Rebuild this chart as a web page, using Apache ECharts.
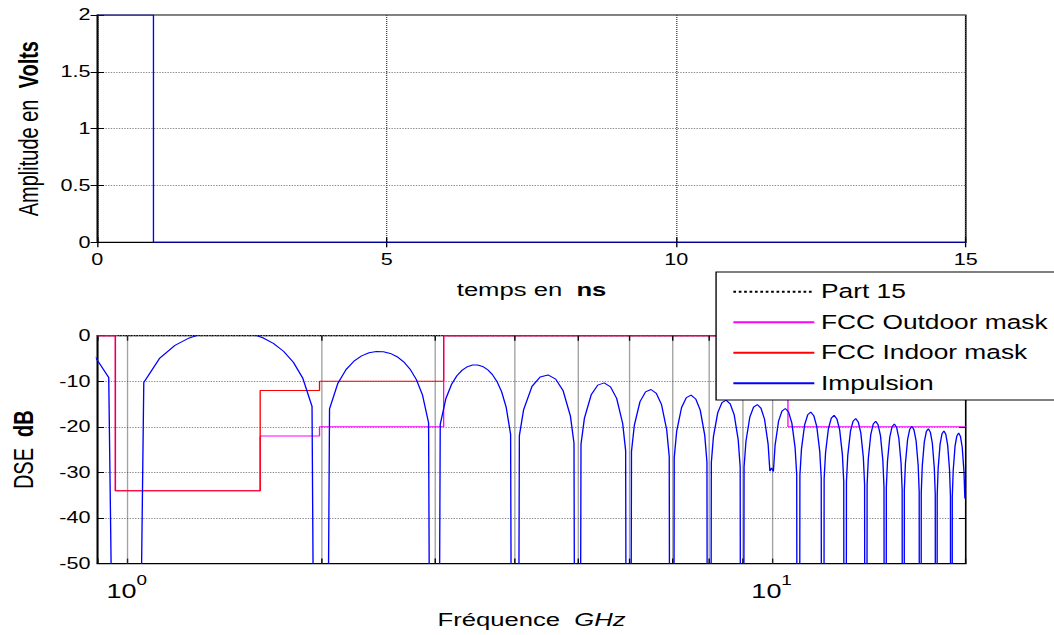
<!DOCTYPE html>
<html><head><meta charset="utf-8">
<script src="https://cdn.jsdelivr.net/npm/echarts@6/dist/echarts.min.js"></script>
<style>
html,body{margin:0;padding:0;background:#fff;overflow:hidden;}
#wrap{width:1054px;height:635px;overflow:hidden;background:#fff;}
#chart{width:781px;height:635px;transform:scaleX(1.34955);transform-origin:0 0;}
</style></head><body><div id="wrap"><div id="chart"></div></div>
<script>
// ---- data ----
const timeNs = [0, 0.97, 0.97, 15];
const amplitudeV = [2, 2, 0, 0];

const freqGHz = [
 0.875, 0.9375, 1,
 1.0625, 1.125, 1.1875, 1.25, 1.3125, 1.375, 1.4375, 1.5, 1.5625, 1.625, 1.6875, 1.75, 1.8125, 1.875, 1.9375, 2,
 2.0625, 2.125, 2.1875, 2.25, 2.3125, 2.375, 2.4375, 2.5, 2.5625, 2.625, 2.6875, 2.75, 2.8125, 2.875, 2.9375, 3,
 3.0625, 3.125, 3.1875, 3.25, 3.3125, 3.375, 3.4375, 3.5, 3.5625, 3.625, 3.6875, 3.75, 3.8125, 3.875, 3.9375, 4,
 4.0625, 4.125, 4.25, 4.375, 4.5, 4.625, 4.75, 4.875, 4.9375, 5,
 5.0625, 5.125, 5.25, 5.375, 5.5, 5.625, 5.75, 5.875, 5.9375, 6,
 6.0625, 6.125, 6.25, 6.375, 6.5, 6.625, 6.75, 6.875, 6.9375, 7,
 7.0625, 7.125, 7.25, 7.375, 7.5, 7.625, 7.75, 7.875, 7.9375, 8,
 8.0625, 8.125, 8.25, 8.375, 8.5, 8.625, 8.75, 8.875, 8.9375, 9,
 9.0625, 9.125, 9.25, 9.375, 9.5, 9.625, 9.75, 9.875, 9.9375, 10,
 10.0625, 10.125, 10.25, 10.375, 10.5, 10.625, 10.75, 10.875, 10.9375, 11,
 11.0625, 11.125, 11.25, 11.375, 11.5, 11.625, 11.75, 11.875, 11.9375, 12,
 12.0625, 12.125, 12.25, 12.375, 12.5, 12.625, 12.75, 12.875, 12.9375, 13,
 13.0625, 13.125, 13.25, 13.375, 13.5, 13.625, 13.75, 13.875, 13.9375, 14,
 14.0625, 14.125, 14.25, 14.375, 14.5, 14.625, 14.75, 14.875, 14.9375, 15,
 15.0625, 15.125, 15.25, 15.375, 15.5, 15.625, 15.75, 15.875, 15.9375, 16,
 16.0625, 16.125, 16.25, 16.375, 16.5, 16.625, 16.75, 16.875, 16.9375, 17,
 17.0625, 17.125, 17.25, 17.375, 17.5, 17.625, 17.75, 17.875, 17.9375, 18,
 18.0625, 18.125, 18.25, 18.375, 18.5, 18.625, 18.75, 18.875, 18.9375, 19,
 19.0625, 19.125, 19.25, 19.375, 19.5, 19.625, 19.75, 19.875, 19.9375
];
const impulsionDb = [
 -2.73, -9.18, -320,
 -10.26, -4.91, -2.14, -0.49, 0.49, 1.00, 1.14, 0.94, 0.41, -0.45, -1.69, -3.41, -5.82, -9.35, -15.48, -320,
 -16.03, -10.43, -7.45, -5.60, -4.43, -3.74, -3.45, -3.50, -3.89, -4.61, -5.73, -7.34, -9.63, -13.06, -19.10, -320,
 -19.46, -13.78, -10.72, -8.79, -7.55, -6.80, -6.44, -6.42, -6.75, -7.42, -8.48, -10.03, -12.27, -15.65, -21.64, -320,
 -21.91, -16.20, -11.12, -9.05, -8.61, -9.53, -12.09, -17.65, -23.61, -320,
 -23.82, -18.08, -12.96, -10.84, -10.35, -11.23, -13.75, -19.27, -25.21, -320,
 -25.39, -19.63, -14.47, -12.32, -11.80, -12.66, -15.14, -20.63, -26.56, -320,
 -26.72, -20.94, -15.76, -13.59, -13.04, -13.88, -16.34, -21.81, -27.73, -320,
 -27.87, -22.08, -16.88, -14.69, -14.13, -14.95, -17.39, -22.85, -28.76, -320,
 -28.88, -23.09, -17.88, -15.67, -15.10, -15.90, -18.33, -23.78, -29.68, -29.0,
 -29.80, -24.00, -18.77, -16.55, -15.97, -16.76, -19.18, -24.62, -30.52, -320,
 -30.62, -24.82, -19.58, -17.35, -16.76, -17.54, -19.96, -25.38, -31.28, -320,
 -31.37, -25.56, -20.32, -18.08, -17.48, -18.26, -20.67, -26.09, -31.98, -320,
 -32.06, -26.25, -21.00, -18.76, -18.15, -18.92, -21.32, -26.73, -32.63, -320,
 -32.70, -26.89, -21.63, -19.38, -18.77, -19.53, -21.93, -27.34, -33.23, -320,
 -33.30, -27.48, -22.22, -19.97, -19.35, -20.11, -22.50, -27.90, -33.79, -320,
 -33.86, -28.04, -22.77, -20.52, -19.89, -20.65, -23.04, -28.43, -34.32, -320,
 -34.38, -28.56, -23.29, -21.03, -20.40, -21.15, -23.54, -28.93, -34.82, -320,
 -34.88, -29.05, -23.78, -21.52, -20.89, -21.63, -24.01, -29.41, -35.29, -320,
 -35.34, -29.52, -24.24, -21.98, -21.34, -22.09, -24.47, -29.85, -35.73
];

const maskFreqGHz   = [0.9, 0.96, 0.96, 1.61, 1.61, 1.99, 1.99, 3.1, 3.1, 10.6, 10.6, 20];
const outdoorMaskDb = [0, 0, -34, -34, -22, -22, -20, -20, 0, 0, -20, -20];
const indoorMaskDb  = [0, 0, -34, -34, -12, -12, -10, -10, 0, 0, -10, -10];
const part15FreqGHz = [0.9, 20];
const part15Db      = [0, 0];

const gridFreqGHz   = [1, 2, 3, 4, 5, 6, 7, 8, 9, 10];
const minorFreqGHz  = [2, 3, 4, 5, 6, 7, 8, 9];
const logTickExponents = [0, 1];
const legendNames = ['Part 15', 'FCC Outdoor mask', 'FCC Indoor mask', 'Impulsion'];

// ---- chart ----
const zip = (xs, ys) => xs.map((x, i) => [x, ys[i]]);
const FONT = '"Liberation Sans", Arial, sans-serif';
const BLACK = '#000';

const chart = echarts.init(document.getElementById('chart'), null, {renderer: 'svg', width: 781, height: 635});

const gridBase = {left: 72.1, right: 65.4, show: true, borderColor: BLACK, borderWidth: 1.2, backgroundColor: 'transparent', containLabel: false, outerBoundsMode: 'none'};

const tickStyle = {show: true, inside: true, length: 5, lineStyle: {color: BLACK, width: 1}};
const hGrid = {show: true, lineStyle: {color: '#8a8a8a', type: [1, 1], width: 1}};
const vGrid = {show: true, lineStyle: {color: '#444', type: [1, 1], width: 1}};
const lblStyle = {color: BLACK, fontFamily: FONT, fontSize: 16};

function logLabel(v) {
  const l = Math.log10(v);
  for (const e of logTickExponents) {
    if (Math.abs(l - e) < 1e-6) return '{b|10}{s|' + e + '}';
  }
  return '';
}

function minorTicks() {
  const out = [];
  minorFreqGHz.forEach(v => {
    out.push([{coord: [v, -50], lineStyle: {type: 'solid', color: BLACK, width: 1}}, {coord: [v, -48.9]}]);
    out.push([{coord: [v, 0], lineStyle: {type: 'solid', color: BLACK, width: 1}}, {coord: [v, -1.1]}]);
  });
  return out;
}

const option = {
  animation: false,
  backgroundColor: '#fff',
  textStyle: {fontFamily: FONT, color: BLACK},
  grid: [
    Object.assign({top: 15, height: 227.3}, gridBase),
    Object.assign({top: 335.7, height: 227.9}, gridBase)
  ],
  legend: {
    data: legendNames,
    orient: 'vertical',
    left: 530.6, top: 272,
    padding: [9.7, 140, 6.8, 11.8],
    itemWidth: 60, itemHeight: 20, itemGap: 10.5,
    borderColor: BLACK, borderWidth: 1, borderRadius: 0,
    backgroundColor: '#fff',
    selectedMode: false,
    itemStyle: {color: 'rgba(0,0,0,0)', borderColor: 'rgba(0,0,0,0)', borderWidth: 0},
    textStyle: {fontSize: 19.5, color: BLACK, fontFamily: FONT},
    z: 10
  },
  xAxis: [
    {
      gridIndex: 0, type: 'value', min: 0, max: 15, interval: 5, position: 'bottom',
      axisLine: {show: true, onZero: false, lineStyle: {color: BLACK, width: 1}},
      axisTick: tickStyle,
      axisLabel: Object.assign({margin: 9}, lblStyle),
      splitLine: vGrid,
      name: '{n|temps en  }{b|ns}', nameLocation: 'middle', nameGap: 38,
      nameTextStyle: {color: BLACK, fontFamily: FONT, fontSize: 19,
        rich: {n: {fontSize: 19, fontFamily: FONT, color: BLACK}, b: {fontSize: 19, fontFamily: FONT, fontWeight: 'bold', color: BLACK}}}
    },
    {
      gridIndex: 0, type: 'value', min: 0, max: 15, interval: 5, position: 'top',
      axisLine: {show: false}, axisTick: tickStyle, axisLabel: {show: false}, splitLine: {show: false}
    },
    {
      gridIndex: 1, type: 'log', logBase: 10, min: 0.9, max: 20, position: 'bottom',
      axisLine: {show: true, onZero: false, lineStyle: {color: BLACK, width: 1}},
      axisTick: tickStyle,
      axisLabel: {
        margin: 10, color: BLACK, fontFamily: FONT, fontSize: 20, formatter: logLabel,
        rich: {
          b: {fontSize: 20, fontFamily: FONT, color: BLACK},
          s: {fontSize: 14, fontFamily: FONT, color: BLACK, padding: [0, 0, 20, 0]}
        }
      },
      splitLine: {show: false},
      name: '{n|Fréquence  }{i|GHz}', nameLocation: 'middle', nameGap: 47,
      nameTextStyle: {color: BLACK, fontFamily: FONT, fontSize: 19,
        rich: {n: {fontSize: 19, fontFamily: FONT, color: BLACK}, i: {fontSize: 19, fontFamily: FONT, fontStyle: 'italic', color: BLACK}}}
    },
    {
      gridIndex: 1, type: 'log', logBase: 10, min: 0.9, max: 20, position: 'top',
      axisLine: {show: false}, axisTick: tickStyle, axisLabel: {show: false}, splitLine: {show: false}
    }
  ],
  yAxis: [
    {
      gridIndex: 0, type: 'value', min: 0, max: 2, interval: 0.5, position: 'left',
      axisLine: {show: true, onZero: false, lineStyle: {color: BLACK, width: 1}},
      axisTick: tickStyle,
      axisLabel: Object.assign({margin: 5}, lblStyle),
      splitLine: hGrid,
      name: '{n|Amplitude en  }{b|Volts}', nameLocation: 'middle', nameGap: 41, nameRotate: 90,
      nameTextStyle: {color: BLACK, fontFamily: FONT, fontSize: 20,
        rich: {n: {fontSize: 20, fontFamily: FONT, color: BLACK}, b: {fontSize: 20, fontFamily: FONT, fontWeight: 'bold', color: BLACK}}}
    },
    {
      gridIndex: 0, type: 'value', min: 0, max: 2, interval: 0.5, position: 'right',
      axisLine: {show: false}, axisTick: tickStyle, axisLabel: {show: false}, splitLine: {show: false}
    },
    {
      gridIndex: 1, type: 'value', min: -50, max: 0, interval: 10, position: 'left',
      axisLine: {show: true, onZero: false, lineStyle: {color: BLACK, width: 1}},
      axisTick: tickStyle,
      axisLabel: Object.assign({margin: 5}, lblStyle),
      splitLine: hGrid,
      name: '{n|DSE  }{b|dB}', nameLocation: 'middle', nameGap: 45, nameRotate: 90,
      nameTextStyle: {color: BLACK, fontFamily: FONT, fontSize: 20,
        rich: {n: {fontSize: 20, fontFamily: FONT, color: BLACK}, b: {fontSize: 20, fontFamily: FONT, fontWeight: 'bold', color: BLACK}}}
    },
    {
      gridIndex: 1, type: 'value', min: -50, max: 0, interval: 10, position: 'right',
      axisLine: {show: false}, axisTick: tickStyle, axisLabel: {show: false}, splitLine: {show: false}
    }
  ],
  series: [
    {
      name: 'Signal', type: 'line', xAxisIndex: 0, yAxisIndex: 0,
      data: zip(timeNs, amplitudeV), symbol: 'none', z: 3,
      lineStyle: {color: '#0000ff', width: 1}, itemStyle: {color: '#0000ff'}
    },
    {
      name: 'Part 15', type: 'line', xAxisIndex: 2, yAxisIndex: 2,
      data: zip(part15FreqGHz, part15Db), symbol: 'none', z: 2,
      lineStyle: {color: BLACK, width: 0.6, type: [2, 2]}, itemStyle: {color: BLACK},
      markLine: {
        silent: true, symbol: ['none', 'none'], animation: false,
        label: {show: false}, emphasis: {disabled: true},
        lineStyle: {color: '#444', type: [1, 1], width: 1},
        data: gridFreqGHz.map(v => ({xAxis: v})).concat(minorTicks())
      }
    },
    {
      name: 'FCC Outdoor mask', type: 'line', xAxisIndex: 2, yAxisIndex: 2,
      data: zip(maskFreqGHz, outdoorMaskDb), symbol: 'none', z: 3,
      lineStyle: {color: '#ff00ff', width: 1}, itemStyle: {color: '#ff00ff'}
    },
    {
      name: 'FCC Indoor mask', type: 'line', xAxisIndex: 2, yAxisIndex: 2,
      data: zip(maskFreqGHz, indoorMaskDb), symbol: 'none', z: 4,
      lineStyle: {color: '#ff0000', width: 1}, itemStyle: {color: '#ff0000'}
    },
    {
      name: 'Impulsion', type: 'line', xAxisIndex: 2, yAxisIndex: 2,
      data: zip(freqGHz, impulsionDb), symbol: 'none', z: 5,
      lineStyle: {color: '#0000ff', width: 1}, itemStyle: {color: '#0000ff'}
    }
  ]
};
chart.setOption(option);
</script></body></html>
